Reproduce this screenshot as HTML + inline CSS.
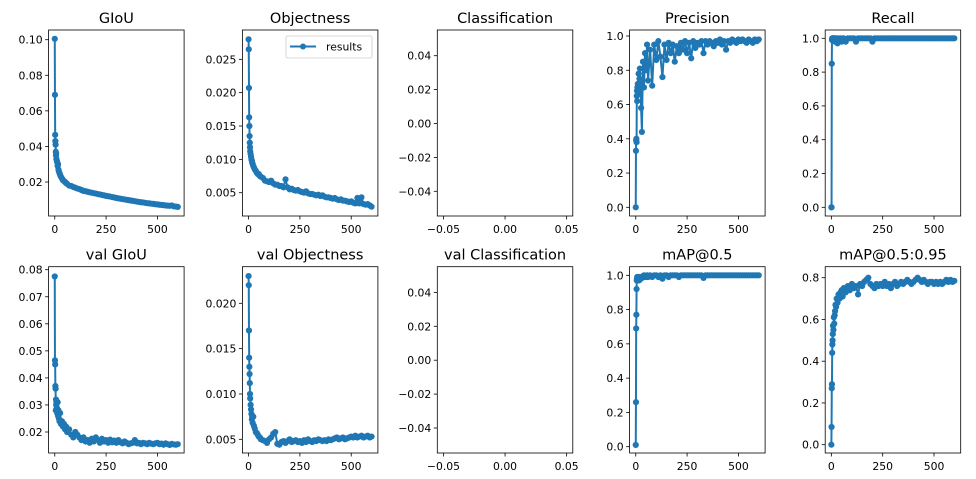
<!DOCTYPE html>
<html><head><meta charset="utf-8"><style>
body{margin:0;background:#fff;}
svg{display:block;font-family:"DejaVu Sans","Liberation Sans",sans-serif;}
</style></head><body>
<svg id="fig" width="976" height="479" viewBox="0 0 976 479"></svg>
<script>
const epochs=[0,1,2,3,4,5,6,7,8,10,12,14,16,18,20,23,26,30,35,40,45,50,55,60,70,80,90,100,110,120,130,140,150,160,170,180,190,200,210,220,230,240,250,260,270,280,290,300,310,320,330,340,350,360,370,380,390,400,410,420,430,440,450,460,470,480,490,500,510,520,530,540,550,560,570,580,590,599];
const giou=[0.1005,0.069,0.0465,0.043,0.041,0.037,0.035,0.036,0.033,0.032,0.031,0.029,0.030,0.027,0.026,0.025,0.024,0.023,0.022,0.021,0.0205,0.020,0.0195,0.019,0.018,0.0178,0.0172,0.0168,0.0163,0.016,0.0155,0.015,0.0148,0.0145,0.0142,0.014,0.0137,0.0135,0.0132,0.013,0.0127,0.0125,0.0122,0.012,0.0118,0.0115,0.0113,0.011,0.0108,0.0106,0.0104,0.0102,0.010,0.0098,0.0096,0.0094,0.0092,0.009,0.0088,0.0086,0.0085,0.0083,0.0081,0.008,0.0078,0.0077,0.0075,0.0074,0.0072,0.0071,0.007,0.0068,0.0067,0.0066,0.0068,0.0063,0.0062,0.006];
const objectness=[0.028,0.0265,0.0207,0.0163,0.015,0.0135,0.0125,0.0118,0.0112,0.0108,0.0104,0.010,0.0098,0.0095,0.0093,0.009,0.0088,0.0085,0.0083,0.008,0.0078,0.0078,0.0075,0.0074,0.0072,0.0068,0.0067,0.0066,0.0068,0.0064,0.0062,0.0062,0.006,0.006,0.0058,0.007,0.0058,0.0055,0.0056,0.0054,0.0053,0.0054,0.0052,0.0051,0.005,0.0052,0.0049,0.0048,0.0048,0.0047,0.0046,0.0047,0.0045,0.0046,0.0044,0.0043,0.0043,0.0042,0.0041,0.0042,0.004,0.0039,0.004,0.0038,0.0038,0.0037,0.0036,0.0037,0.0035,0.0034,0.0042,0.0034,0.0043,0.0033,0.0032,0.0033,0.0031,0.0029];
const precision=[0,0.33,0.39,0.40,0.38,0.65,0.68,0.62,0.70,0.72,0.66,0.78,0.68,0.75,0.81,0.72,0.58,0.44,0.85,0.70,0.90,0.80,0.95,0.74,0.92,0.71,0.95,0.86,0.97,0.88,0.76,0.95,0.86,0.96,0.90,0.95,0.85,0.94,0.90,0.96,0.92,0.97,0.90,0.96,0.87,0.97,0.93,0.96,0.95,0.97,0.90,0.97,0.95,0.97,0.96,0.94,0.97,0.96,0.98,0.95,0.97,0.92,0.97,0.96,0.98,0.97,0.96,0.98,0.97,0.98,0.97,0.96,0.98,0.97,0.96,0.98,0.97,0.98];
const recall=[0,0,0.85,0.99,1,0.99,1,1,0.99,1,1,0.99,1,0.98,1,0.99,1,0.97,1,0.99,1,0.98,1,1,0.98,1,1,1,1,0.98,1,1,1,1,1,1,1,0.98,1,1,1,1,1,1,1,1,1,1,1,1,1,1,1,1,1,1,1,1,1,1,1,1,1,1,1,1,1,1,1,1,1,1,1,1,1,1,1,1];
const valGiou=[0.0775,0.0465,0.045,0.037,0.036,0.028,0.032,0.030,0.031,0.029,0.027,0.031,0.026,0.028,0.025,0.024,0.027,0.023,0.024,0.022,0.023,0.021,0.022,0.020,0.021,0.019,0.018,0.020,0.019,0.018,0.017,0.018,0.0165,0.017,0.016,0.0175,0.0165,0.018,0.017,0.016,0.0175,0.0165,0.017,0.016,0.0172,0.0162,0.0168,0.016,0.017,0.0162,0.0158,0.0165,0.016,0.0155,0.0158,0.016,0.017,0.0158,0.016,0.0155,0.016,0.0158,0.0155,0.016,0.0157,0.0155,0.0158,0.016,0.0155,0.0157,0.0153,0.0158,0.0155,0.0152,0.0156,0.0154,0.0153,0.0155];
const valObjectness=[0.023,0.022,0.017,0.014,0.013,0.0122,0.0112,0.010,0.0095,0.0088,0.0083,0.0078,0.0072,0.0075,0.0068,0.0075,0.0065,0.0062,0.0058,0.0057,0.0055,0.0053,0.0052,0.0050,0.0049,0.0048,0.0046,0.0050,0.0052,0.0056,0.0058,0.0045,0.0044,0.0047,0.0048,0.0046,0.0048,0.0050,0.0047,0.0048,0.0049,0.0047,0.0048,0.0046,0.0049,0.0047,0.0050,0.0048,0.0047,0.0049,0.0048,0.0050,0.0049,0.0048,0.0049,0.0048,0.0050,0.0049,0.0050,0.0051,0.0052,0.0050,0.0051,0.0052,0.0050,0.0051,0.0052,0.0053,0.0052,0.0054,0.0052,0.0053,0.0054,0.0052,0.0053,0.0054,0.0052,0.0053];
const map50=[0.01,0.26,0.69,0.77,0.92,0.97,0.98,0.99,0.97,0.99,0.98,0.99,0.97,0.99,0.98,0.99,0.98,0.99,0.99,1,0.99,0.99,1,0.99,1,0.99,1,1,0.99,1,0.98,1,1,0.99,1,1,1,1,0.99,1,1,1,1,1,1,1,1,1,1,1,0.985,1,1,1,1,1,1,1,1,1,1,1,1,1,1,1,1,1,1,1,1,1,1,1,1,1,1,1];
const map95=[0,0.085,0.27,0.29,0.44,0.48,0.50,0.53,0.57,0.55,0.61,0.58,0.62,0.64,0.67,0.66,0.70,0.68,0.72,0.70,0.73,0.74,0.71,0.75,0.73,0.76,0.74,0.77,0.75,0.76,0.72,0.77,0.76,0.78,0.79,0.80,0.77,0.76,0.75,0.77,0.76,0.77,0.76,0.78,0.76,0.77,0.75,0.77,0.78,0.76,0.77,0.78,0.77,0.78,0.79,0.78,0.77,0.78,0.79,0.80,0.79,0.78,0.79,0.78,0.77,0.78,0.78,0.77,0.78,0.77,0.78,0.77,0.78,0.79,0.78,0.79,0.78,0.785];
const xTickLabels=["0","250","500"];
const xTickValues=[0,250,500];
const clsTickLabels=["\u22120.05","0.00","0.05"];

const NS="http://www.w3.org/2000/svg";
const svg=document.getElementById('fig');
const COL="#1f77b4";
function mk(tag,attrs,parent){const e=document.createElementNS(NS,tag);for(const k in attrs)e.setAttribute(k,attrs[k]);(parent||svg).appendChild(e);return e;}
const lefts=[48.6,242.4,437.3,629.6,825.2];const W=135.5;
const panels=[
 {t:"GIoU",r:0,c:0,d:giou,yv:[0.10,0.02],yp:[39.7,182],ticks:[0.02,0.04,0.06,0.08,0.10],fmt:2},
 {t:"Objectness",r:0,c:1,d:objectness,yv:[0.025,0.005],yp:[59.3,192.7],ticks:[0.005,0.010,0.015,0.020,0.025],fmt:3,legend:true},
 {t:"Classification",r:0,c:2,d:null,yv:[0.04,-0.04],yp:[55.7,191.3],ticks:[-0.04,-0.02,0,0.02,0.04],fmt:2},
 {t:"Precision",r:0,c:3,d:precision,yv:[1,0],yp:[36,207.3],ticks:[0,0.2,0.4,0.6,0.8,1.0],fmt:1},
 {t:"Recall",r:0,c:4,d:recall,yv:[1,0],yp:[38.3,207.3],ticks:[0,0.2,0.4,0.6,0.8,1.0],fmt:1},
 {t:"val GIoU",r:1,c:0,d:valGiou,yv:[0.08,0.02],yp:[269.7,432],ticks:[0.02,0.03,0.04,0.05,0.06,0.07,0.08],fmt:2},
 {t:"val Objectness",r:1,c:1,d:valObjectness,yv:[0.020,0.005],yp:[303.3,439.3],ticks:[0.005,0.010,0.015,0.020],fmt:3},
 {t:"val Classification",r:1,c:2,d:null,yv:[0.04,-0.04],yp:[292.4,428],ticks:[-0.04,-0.02,0,0.02,0.04],fmt:2},
 {t:"mAP@0.5",r:1,c:3,d:map50,yv:[1,0],yp:[275.3,446.7],ticks:[0,0.2,0.4,0.6,0.8,1.0],fmt:1},
 {t:"mAP@0.5:0.95",r:1,c:4,d:map95,yv:[0.8,0],yp:[277.7,444.7],ticks:[0,0.2,0.4,0.6,0.8],fmt:1}
];
const tops=[30,266.7],bots=[216,453];
panels.forEach(p=>{
 const L=lefts[p.c],T=tops[p.r],B=bots[p.r];
 const slug=p.t.toLowerCase().replace(/[^a-z0-9]+/g,'-').replace(/-$/,'');
 const g=mk('g',{});
 
 
 const yOf=v=>p.yp[0]+(v-p.yv[0])*(p.yp[1]-p.yp[0])/(p.yv[1]-p.yv[0]);
 const xOf=e=>L+(e+30)/660*W;
 const tt=mk('text',{x:L+W/2,y:T-7,'text-anchor':'middle','font-size':'14.5','fill':'#000'},g);tt.textContent=p.t;
 
 
 p.ticks.forEach(v=>{const y=yOf(v);
  mk('line',{x1:L-3.5,x2:L,y1:y,y2:y,stroke:'#000','stroke-width':0.8},g);
  const s=(v<0?"\u2212":"")+Math.abs(v).toFixed(p.fmt);
  const tx=mk('text',{x:L-6,y:y+4,'text-anchor':'end','font-size':'10.8',fill:'#000'},g);tx.textContent=s;
  
  
 });
 if(p.d){
  xTickValues.forEach((v,i)=>{const x=xOf(v);
   mk('line',{x1:x,x2:x,y1:B,y2:B+3.5,stroke:'#000','stroke-width':0.8},g);
   const tx=mk('text',{x:x,y:B+17,'text-anchor':'middle','font-size':'10.8',fill:'#000'},g);tx.textContent=xTickLabels[i];
   
   
  });
 } else {
  [-0.05,0,0.05].forEach((v,i)=>{const x=L+(v+0.055)/0.11*W;
   mk('line',{x1:x,x2:x,y1:B,y2:B+3.5,stroke:'#000','stroke-width':0.8},g);
   const tx=mk('text',{x:x,y:B+17,'text-anchor':'middle','font-size':'10.8',fill:'#000'},g);tx.textContent=clsTickLabels[i];
   
   
  });
 }
 if(p.d){
  const n=Math.min(epochs.length,p.d.length);
  let dstr='';
  for(let i=0;i<n;i++){dstr+=(i?'L':'M')+xOf(epochs[i]).toFixed(2)+','+yOf(p.d[i]).toFixed(2);}
  const ln=mk('path',{d:dstr,fill:'none',stroke:COL,'stroke-width':2,'stroke-linejoin':'round'},g);
  
  
  for(let i=0;i<n;i++){
   const c=mk('circle',{cx:xOf(epochs[i]),cy:yOf(p.d[i]),r:3.1,fill:COL},g);
   
   
  }
 }
 mk('rect',{x:L,y:T,width:W,height:B-T,fill:'none',stroke:'#000','stroke-width':0.8},g);
 if(p.legend){
  const lg=mk('g',{},g);
  
  
  mk('rect',{x:286,y:36,width:86,height:22,rx:2,fill:'#fff',stroke:'#ccc','stroke-width':0.8},lg);
  mk('line',{x1:290,x2:316,y1:46.5,y2:46.5,stroke:COL,'stroke-width':2},lg);
  mk('circle',{cx:303,cy:46.5,r:3,fill:COL},lg);
  const lt=mk('text',{x:326,y:50.5,'font-size':'10.8',fill:'#000'},lg);lt.textContent='results';
  
  
 }
});
</script>
</body></html>
